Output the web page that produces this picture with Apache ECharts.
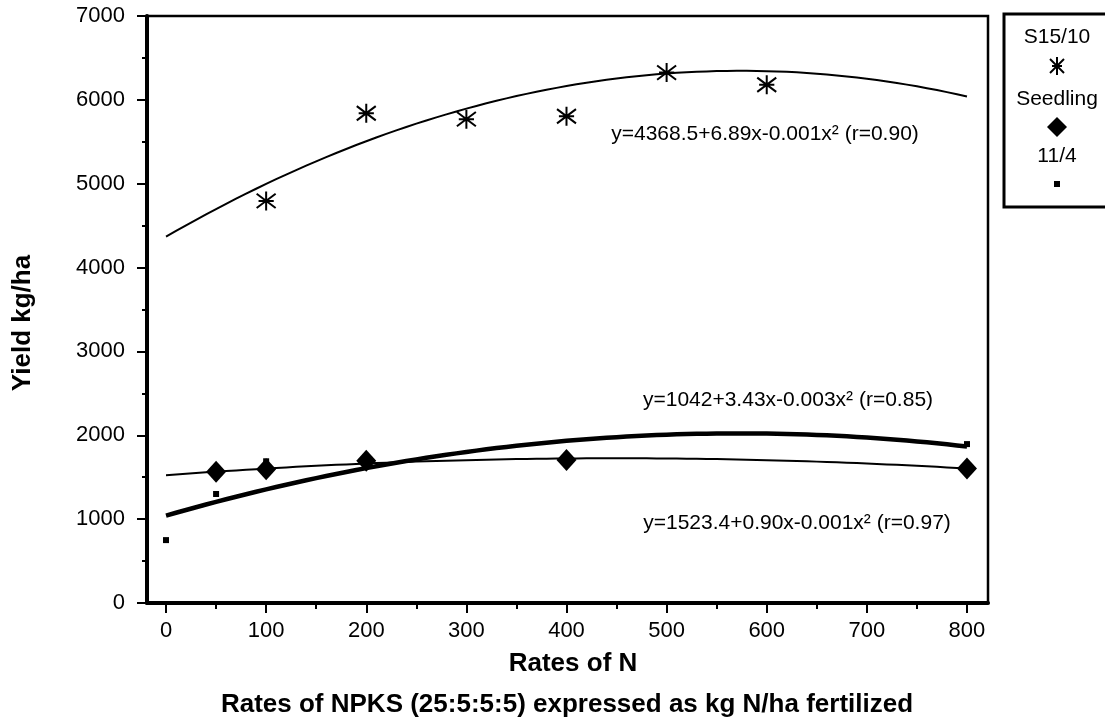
<!DOCTYPE html>
<html>
<head>
<meta charset="utf-8">
<script src="https://cdn.jsdelivr.net/npm/echarts@6/dist/echarts.min.js"></script>
<style>
  html, body { margin: 0; padding: 0; background: #fff; }
  #chart { width: 1105px; height: 722px; }
</style>
</head>
<body>
<div id="chart"></div>
<script>
// Observed yields (kg/ha) at each N rate
const s1510Points = [[100, 4795], [200, 5840], [300, 5770], [400, 5805], [500, 6325], [600, 6180]];
const seedlingPoints = [[50, 1565], [100, 1595], [200, 1695], [400, 1705], [800, 1605]];
const p114Points = [[0, 750], [50, 1300], [100, 1690], [200, 1720], [800, 1895]];

// Quadratic trend coefficients: [intercept, linear, quadratic]
const s1510Fit = [4368.5, 6.89, -0.006];
const seedlingFit = [1523.4, 0.90, -0.001];
const p114Fit = [1042, 3.43, -0.003];

// Fit curve range (kg N/ha)
const fitRange = [0, 800];

// Axis tick values
const xMajorTicks = [0, 100, 200, 300, 400, 500, 600, 700, 800];
const xMinorTicks = [50, 150, 250, 350, 450, 550, 650, 750];

// Equation annotations
const eqS1510 = 'y=4368.5+6.89x-0.001x² (r=0.90)';
const eqP114 = 'y=1042+3.43x-0.003x² (r=0.85)';
const eqSeedling = 'y=1523.4+0.90x-0.001x² (r=0.97)';

const legendNames = ['S15/10', 'Seedling', '11/4'];

function curve(c) {
  const pts = [];
  for (let x = fitRange[0]; x <= fitRange[1]; x += 10) {
    pts.push([x, c[0] + c[1] * x + c[2] * x * x]);
  }
  return pts;
}

const FONT = 'Liberation Sans, Arial, Helvetica, sans-serif';
const ASTERISK = 'path://M0,-10L0,10M-7.5,-7.5L7.5,7.5M-7.5,7.5L7.5,-7.5M-6,0L6,0';

const chart = echarts.init(document.getElementById('chart'), null, { renderer: 'canvas' });

function seg(x1, y1, x2, y2) {
  return { type: 'line', shape: { x1: x1, y1: y1, x2: x2, y2: y2 }, style: { stroke: '#000', lineWidth: 2 } };
}
function label(text, x, y, font) {
  return { type: 'text', x: x, y: y,
    style: { text: text, font: font, fill: '#000', align: 'center', verticalAlign: 'middle' } };
}

const LX = 1057;
const solid = { color: '#000', opacity: 1 };

const option = {
  animation: false,
  backgroundColor: '#fff',
  grid: {
    left: 147, top: 16, right: 117, bottom: 119,
    show: true, borderColor: '#000', borderWidth: 2.5, backgroundColor: 'transparent'
  },
  xAxis: [{
    type: 'value', min: -19, max: 821,
    splitLine: { show: false },
    axisLine: { onZero: false, lineStyle: { color: '#000', width: 4 } },
    axisTick: { customValues: xMajorTicks, length: 10, lineStyle: { color: '#000', width: 2 } },
    axisLabel: { customValues: xMajorTicks, color: '#000', fontFamily: FONT, fontSize: 22, margin: 17 }
  }, {
    type: 'value', min: -19, max: 821, position: 'bottom',
    splitLine: { show: false },
    axisLine: { show: false, onZero: false },
    axisTick: { customValues: xMinorTicks, length: 6, lineStyle: { color: '#000', width: 2 } },
    axisLabel: { show: false }
  }],
  yAxis: {
    type: 'value', min: 0, max: 7000, interval: 1000,
    splitLine: { show: false },
    axisLine: { show: true, onZero: false, lineStyle: { color: '#000', width: 4 } },
    axisTick: { length: 10, lineStyle: { color: '#000', width: 2 } },
    minorTick: { show: true, splitNumber: 2, length: 5, lineStyle: { color: '#000', width: 2 } },
    axisLabel: { color: '#000', fontFamily: FONT, fontSize: 22, margin: 22, formatter: v => String(v) }
  },
  series: [
    {
      name: 'S15/10 fit', type: 'line', data: curve(s1510Fit), showSymbol: false, silent: true,
      lineStyle: { color: '#000', width: 2 }, z: 2
    },
    {
      name: 'Seedling fit', type: 'line', data: curve(seedlingFit), showSymbol: false, silent: true,
      lineStyle: { color: '#000', width: 2 }, z: 2
    },
    {
      name: '11/4 fit', type: 'line', data: curve(p114Fit), showSymbol: false, silent: true,
      lineStyle: { color: '#000', width: 4.5 }, z: 2
    },
    {
      name: legendNames[0], type: 'scatter', data: s1510Points,
      symbol: ASTERISK, symbolSize: 19,
      itemStyle: { color: '#000', opacity: 1, borderColor: '#000', borderWidth: 2 }, z: 3
    },
    {
      name: legendNames[1], type: 'scatter', data: seedlingPoints,
      symbol: 'diamond', symbolSize: [20, 22],
      itemStyle: solid, z: 3
    },
    {
      name: legendNames[2], type: 'scatter', data: p114Points,
      symbol: 'rect', symbolSize: 6,
      itemStyle: solid, z: 3
    }
  ],
  graphic: [
    // regression equations
    label(eqS1510, 765, 134, '21px ' + FONT),
    label(eqP114, 788, 400, '21px ' + FONT),
    label(eqSeedling, 797, 523, '21px ' + FONT),
    // axis titles
    { type: 'text', x: 23, y: 323, rotation: Math.PI / 2,
      style: { text: 'Yield kg/ha', font: 'bold 26px ' + FONT, fill: '#000', align: 'center', verticalAlign: 'middle' } },
    label('Rates of N', 573, 664, 'bold 26px ' + FONT),
    label('Rates of NPKS (25:5:5:5) expressed as kg N/ha fertilized', 567, 705, 'bold 26px ' + FONT),
    // legend box
    { type: 'rect', shape: { x: 1004, y: 14, width: 140, height: 193 },
      style: { fill: '#fff', stroke: '#000', lineWidth: 3 } },
    label(legendNames[0], LX, 37, '21px ' + FONT),
    seg(LX, 57, LX, 75), seg(LX - 7, 59, LX + 7, 73), seg(LX - 7, 73, LX + 7, 59), seg(LX - 5, 66, LX + 5, 66),
    label(legendNames[1], LX, 99, '21px ' + FONT),
    { type: 'polygon', shape: { points: [[LX, 117], [LX + 10, 127], [LX, 137], [LX - 10, 127]] },
      style: { fill: '#000' } },
    label(legendNames[2], LX, 156, '21px ' + FONT),
    { type: 'rect', shape: { x: LX - 3, y: 181, width: 6, height: 6 }, style: { fill: '#000' } }
  ]
};

chart.setOption(option);
</script>
</body>
</html>
